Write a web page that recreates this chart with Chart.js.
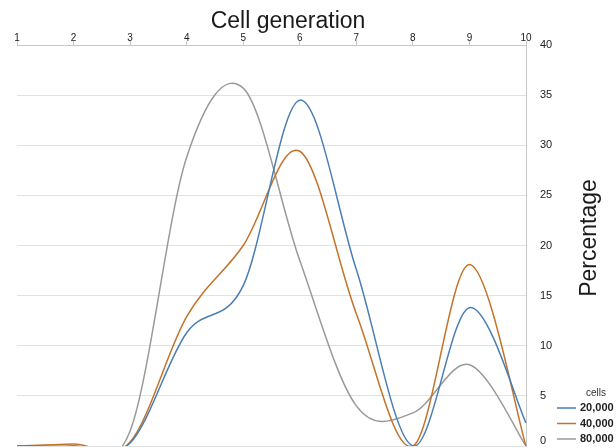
<!DOCTYPE html>
<html>
<head>
<meta charset="utf-8">
<script src="https://cdn.jsdelivr.net/npm/chart.js@4/dist/chart.umd.min.js"></script>
<style>
  html, body { margin: 0; padding: 0; background: #fff; }
  #wrap { width: 616px; height: 448px; }
</style>
</head>
<body>
<div id="wrap"><canvas id="chart" width="616" height="448"></canvas></div>
<script>
// generations on the top axis, percentage per cell density
const generations = ['1', '2', '3', '4', '5', '6', '7', '8', '9', '10'];
const cells20k = [0, 0, 0.3, 11.3, 16, 34.5, 17.6, 0, 13.8, 2.3];
const cells40k = [0, 0.2, 0.4, 12.9, 20, 29.4, 13.2, 0, 18.1, 0];
const cells80k = [0, 0, 1.5, 28.8, 35.7, 18.5, 4.0, 3.3, 8.1, 0];
const seriesLabels = ['20,000', '40,000', '80,000'];
const seriesColors = ['#4a7eb4', '#c4732a', '#9a9a9a'];

const FONT = '"Liberation Sans", Arial, sans-serif';

// spreadsheet-style smoothing: uniform catmull-rom control points,
// whatever dips under 0 is cut off by the chart area clip
const smoothLines = {
  id: 'smoothLines',
  beforeDatasetsDraw(chart) {
    chart.data.datasets.forEach((ds, i) => {
      const meta = chart.getDatasetMeta(i);
      const pts = meta.data;
      pts.forEach((p, j) => {
        const prev = pts[j - 1] || p;
        const next = pts[j + 1] || p;
        const tx = (next.x - prev.x) / 6;
        const ty = (next.y - prev.y) / 6;
        p.cp1x = p.x - tx;
        p.cp1y = p.y - ty;
        p.cp2x = p.x + tx;
        p.cp2y = p.y + ty;
      });
      meta.dataset._pointsUpdated = true;
    });
  }
};

// lift the "0" label so it stays inside the canvas
const liftZero = {
  id: 'liftZero',
  beforeDraw(chart) {
    const items = chart.scales.y.getLabelItems();
    items.forEach((it) => {
      if (it.label === '0' && !it._lifted) {
        it.options.translation[1] -= 5;
        it._lifted = true;
      }
    });
  }
};

// titles placed like the original, plus the small "cells" legend
const sideText = {
  id: 'sideText',
  afterDraw(chart) {
    const ctx = chart.ctx;
    ctx.save();
    ctx.fillStyle = '#1a1a1a';
    ctx.font = '23px ' + FONT;
    ctx.textAlign = 'center';
    ctx.textBaseline = 'alphabetic';
    ctx.fillText('Cell generation', 288, 28);
    ctx.translate(596, 238);
    ctx.rotate(-Math.PI / 2);
    ctx.fillText('Percentage', 0, 0);
    ctx.restore();

    ctx.save();
    ctx.fillStyle = '#333';
    ctx.font = '10px ' + FONT;
    ctx.textAlign = 'center';
    ctx.textBaseline = 'middle';
    ctx.fillText('cells', 596, 393);
    ctx.font = 'bold 11px ' + FONT;
    ctx.textAlign = 'left';
    chart.data.datasets.forEach((ds, i) => {
      const y = 408 + i * 15.5;
      ctx.strokeStyle = ds.borderColor;
      ctx.lineWidth = 1.5;
      ctx.beginPath();
      ctx.moveTo(557, y);
      ctx.lineTo(576, y);
      ctx.stroke();
      ctx.fillStyle = '#222';
      ctx.fillText(ds.label, 580, y);
    });
    ctx.restore();
  }
};

const datasets = [cells20k, cells40k, cells80k].map((data, i) => ({
  label: seriesLabels[i],
  data,
  borderColor: seriesColors[i],
  backgroundColor: seriesColors[i],
  borderWidth: 1.5,
  pointRadius: 0,
  tension: 0.4,
  fill: false,
}));

new Chart(document.getElementById('chart'), {
  type: 'line',
  data: { labels: generations, datasets },
  options: {
    responsive: false,
    animation: false,
    layout: { padding: { left: 17, right: 0, top: 0, bottom: 2 } },
    plugins: { legend: { display: false }, tooltip: { enabled: false } },
    scales: {
      x: {
        position: 'top',
        offset: false,
        grid: { drawOnChartArea: false, drawTicks: true, tickLength: 4, color: '#c8c8c8' },
        border: { display: true, color: '#c8c8c8' },
        ticks: { color: '#222', font: { family: FONT, size: 10 }, padding: -3, maxRotation: 0 },
        afterFit(scale) {
          scale.height = 45;
          scale.paddingLeft = 0;
          scale.paddingRight = 0;
        },
      },
      y: {
        position: 'right',
        min: 0,
        max: 40,
        grid: { color: '#e2e2e2', drawTicks: false },
        border: { display: true, color: '#c8c8c8' },
        ticks: { stepSize: 5, color: '#222', font: { family: FONT, size: 11 }, padding: 14 },
        afterFit(scale) {
          scale.width = 90;
          scale.paddingTop = 0;
          scale.paddingBottom = 0;
        },
      },
    },
  },
  plugins: [smoothLines, liftZero, sideText],
});
</script>
</body>
</html>
